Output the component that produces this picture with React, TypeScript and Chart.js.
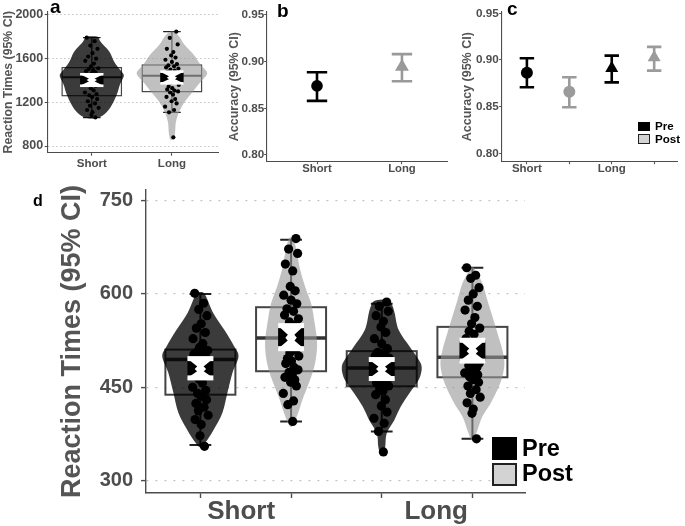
import React, { useEffect, useRef } from 'react';
import { Chart, registerables } from 'chart.js';

Chart.register(...registerables);

const FONT = '"Liberation Sans", Arial, Helvetica, sans-serif';
const AXIS = '#4d4d4d';
const PRE_FILL = 'rgba(0,0,0,0.77)';
const POST_FILL = 'rgba(150,150,150,0.6)';

// ---------------- Panel a : RT (Short / Long) ----------------
const aCategories = ['Short', 'Long'];
const aYTicks = [800, 1200, 1600, 2000];
const aShortRT = [1792, 1760, 1720, 1690, 1650, 1620, 1600, 1580, 1555, 1530, 1512, 1505, 1495, 1485, 1475, 1465, 1455, 1445, 1438, 1432, 1420, 1405, 1390, 1370, 1350, 1330, 1310, 1290, 1275, 1265, 1250, 1230, 1210, 1190, 1170, 1150, 1130, 1110, 1085, 1062];
const aLongRT = [1847, 1790, 1730, 1690, 1660, 1630, 1610, 1590, 1570, 1550, 1538, 1530, 1520, 1510, 1500, 1490, 1480, 1468, 1458, 1448, 1440, 1420, 1400, 1380, 1360, 1345, 1330, 1318, 1308, 1300, 1290, 1270, 1250, 1230, 1210, 1190, 1160, 1130, 1109, 880];
// [whisker low, q1, median, q3, whisker high]
const aShortBox = [1060, 1261, 1429, 1518, 1792];
const aLongBox = [1109, 1298, 1444, 1542, 1847];
// [mean, ci low, ci high]
const aShortCI = [1405, 1352, 1457];
const aLongCI = [1426, 1374, 1481];
// violin density profile: [value, half width]
const aShortViolin = [[1806, 0], [1800, 0.075], [1755, 0.11], [1664, 0.22], [1572, 0.28], [1500, 0.35], [1450, 0.4], [1400, 0.375], [1359, 0.35], [1267, 0.31], [1175, 0.25], [1114, 0.19], [1068, 0.11], [1052, 0]];
const aLongViolin = [[1849, 0], [1817, 0.075], [1725, 0.16], [1634, 0.275], [1542, 0.36], [1466, 0.44], [1389, 0.36], [1298, 0.26], [1206, 0.16], [1114, 0.09], [1023, 0.05], [931, 0.04], [870, 0.025], [855, 0]];

// ---------------- Panel b : Accuracy (Short / Long) ----------------
const bCategories = ['Short', 'Long'];
const bMeans = [0.874, 0.8946];
const bLow = [0.858, 0.879];
const bHigh = [0.8886, 0.908];
const accTicks = [0.8, 0.85, 0.9, 0.95];

// ---------------- Panel c : Accuracy (Short/Long x Pre/Post) ----------------
const cLabels = ['Short', '', 'Long', ''];
const cMeans = [0.8864, 0.866, 0.891, 0.9025];
const cLow = [0.8707, 0.8493, 0.876, 0.8886];
const cHigh = [0.9018, 0.8814, 0.9046, 0.914];

// ---------------- Panel d : RT (Short/Long x Pre/Post) ----------------
const dCategories = ['Short', 'Long'];
const dYTicks = [300, 450, 600, 750];
const dShortPre = [601, 585, 575, 565, 552, 545, 538, 528, 520, 514, 509, 507, 505, 503, 501, 499, 498, 497, 496, 495, 492, 488, 484, 478, 470, 463, 457, 450, 445, 440, 436, 430, 424, 418, 412, 405, 398, 390, 372, 355];
const dShortPost = [689, 672, 665, 648, 637, 612, 605, 598, 590, 584, 576, 572, 566, 560, 555, 550, 545, 540, 535, 531, 525, 518, 510, 505, 500, 496, 492, 488, 482, 478, 474, 470, 466, 462, 458, 452, 440, 428, 422, 395];
const dLongPre = [587, 580, 572, 565, 556, 547, 538, 528, 520, 512, 506, 503, 500, 497, 494, 491, 488, 486, 484, 482, 479, 476, 473, 470, 466, 463, 460, 457, 454, 452, 448, 444, 438, 430, 420, 410, 400, 392, 379, 346];
const dLongPost = [642, 630, 625, 610, 600, 590, 580, 574, 562, 552, 545, 540, 535, 528, 522, 515, 510, 505, 502, 499, 496, 492, 489, 485, 482, 479, 476, 473, 470, 467, 462, 458, 452, 446, 440, 434, 425, 415, 408, 367];
const dShortPreBox = [357, 438, 494.5, 510.5, 600];
const dShortPostBox = [395, 475.7, 529, 578.6, 687];
const dLongPreBox = [379, 451.5, 481, 508, 584];
const dLongPostBox = [367, 466, 498, 547, 642];
const dShortPreCI = [479.5, 465, 496];
const dShortPostCI = [529.5, 512, 549];
const dLongPreCI = [479.5, 464, 494.5];
const dLongPostCI = [508, 492, 525.5];
const dShortPreViolin = [[603, 0], [598, 0.055], [569, 0.143], [542, 0.265], [515, 0.375], [499, 0.42], [473, 0.353], [441, 0.298], [409, 0.243], [381, 0.143], [361, 0.055], [353, 0]];
const dShortPostViolin = [[691, 0], [686, 0.033], [665, 0.066], [639, 0.1], [612, 0.154], [585, 0.22], [559, 0.254], [521, 0.287], [489, 0.265], [462, 0.21], [435, 0.138], [408, 0.077], [392, 0.033], [386, 0]];
const dLongPreViolin = [[591, 0], [588, 0.088], [580, 0.12], [569, 0.143], [542, 0.187], [515, 0.309], [494, 0.408], [481, 0.441], [462, 0.408], [440, 0.303], [419, 0.21], [397, 0.138], [376, 0.055], [355, 0.039], [345, 0.022], [341, 0]];
const dLongPostViolin = [[643, 0], [638, 0.033], [617, 0.11], [590, 0.165], [564, 0.22], [537, 0.276], [510, 0.33], [489, 0.353], [467, 0.33], [446, 0.276], [424, 0.2], [403, 0.11], [381, 0.055], [368, 0.022], [364, 0]];

// hand-typed horizontal jitter (fraction of jitter width)
const jitA = [-0.7, 0.4, -0.2, 0.8, 0.1, -0.5, 0.6, -0.9, 0.3, -0.1, 0.9, -0.4, 0.2, -0.8, 0.5, 0.0, -0.6, 0.7, -0.3, 0.35, -0.75, 0.15, 0.85, -0.45, 0.55, -0.15, 0.25, -0.95, 0.65, -0.35, 0.05, 0.75, -0.55, 0.45, -0.25, 0.95, -0.65, 0.1, -0.05, 0.5];
const jitB = [0.6, -0.3, 0.8, -0.7, 0.2, -0.1, 0.5, -0.9, 0.0, 0.7, -0.5, 0.3, -0.8, 0.9, -0.2, 0.4, -0.6, 0.1, 0.75, -0.35, -0.85, 0.25, 0.55, -0.15, 0.95, -0.45, 0.05, -0.65, 0.35, 0.85, -0.25, 0.15, -0.75, 0.45, -0.05, 0.65, -0.95, 0.3, -0.4, 0.2];

type Group = { x: number; values: number[]; jit: number[]; box: number[]; ci: number[]; violin: number[][]; fill: string };
type Sizes = { boxHW: number; capHW: number; ciHW: number; ciCap: number; line: number; medLine: number; jitter: number };

function smoothClosed(ctx: CanvasRenderingContext2D, pts: number[][]) {
  const n = pts.length;
  ctx.beginPath();
  ctx.moveTo(pts[0][0], pts[0][1]);
  for (let i = 0; i < n; i++) {
    const p0 = pts[(i - 1 + n) % n], p1 = pts[i], p2 = pts[(i + 1) % n], p3 = pts[(i + 2) % n];
    ctx.bezierCurveTo(
      p1[0] + (p2[0] - p0[0]) / 6, p1[1] + (p2[1] - p0[1]) / 6,
      p2[0] - (p3[0] - p1[0]) / 6, p2[1] - (p3[1] - p1[1]) / 6,
      p2[0], p2[1]);
  }
  ctx.closePath();
}

function violinPlugin(groups: Group[], s: Sizes) {
  return {
    id: 'violins',
    beforeDatasetsDraw(chart: any) {
      const ctx = chart.ctx as CanvasRenderingContext2D;
      const xs = chart.scales.x, ys = chart.scales.y;
      const px = (v: number) => xs.getPixelForValue(v);
      const py = (v: number) => ys.getPixelForValue(v);
      ctx.save();
      for (const g of groups) {
        const [mn, q1, md, q3, mx] = g.box;
        const xl = px(g.x - s.boxHW), xr = px(g.x + s.boxHW), xc = px(g.x);
        ctx.strokeStyle = '#222';
        ctx.lineWidth = s.line;
        ctx.beginPath();
        ctx.moveTo(xc, py(q3)); ctx.lineTo(xc, py(mx));
        ctx.moveTo(xc, py(q1)); ctx.lineTo(xc, py(mn));
        ctx.moveTo(px(g.x - s.capHW), py(mx)); ctx.lineTo(px(g.x + s.capHW), py(mx));
        ctx.moveTo(px(g.x - s.capHW), py(mn)); ctx.lineTo(px(g.x + s.capHW), py(mn));
        ctx.stroke();
        ctx.strokeStyle = '#444';
        ctx.strokeRect(xl, py(q3), xr - xl, py(q1) - py(q3));
        ctx.lineWidth = s.medLine;
        ctx.strokeStyle = '#333';
        ctx.beginPath();
        ctx.moveTo(xl, py(md)); ctx.lineTo(xr, py(md));
        ctx.stroke();
      }
      for (const g of groups) {
        const right = g.violin.map(([v, w]) => [px(g.x + w), py(v)]);
        const left = g.violin.filter(([, w]) => w > 0).slice().reverse().map(([v, w]) => [px(g.x - w), py(v)]);
        smoothClosed(ctx, right.concat(left));
        ctx.fillStyle = g.fill;
        ctx.fill();
      }
      ctx.restore();
    },
    afterDatasetsDraw(chart: any) {
      const ctx = chart.ctx as CanvasRenderingContext2D;
      const xs = chart.scales.x, ys = chart.scales.y;
      const px = (v: number) => xs.getPixelForValue(v);
      const py = (v: number) => ys.getPixelForValue(v);
      ctx.save();
      for (const g of groups) {
        const [m, lo, hi] = g.ci;
        const xl = px(g.x - s.ciHW), xr = px(g.x + s.ciHW), xc = px(g.x);
        const yt = py(hi), yb = py(lo), ym = py(m);
        ctx.fillStyle = '#000';
        ctx.fillRect(xl, yt, xr - xl, yb - yt);
        ctx.fillStyle = '#fff';
        ctx.beginPath();
        ctx.moveTo(xl, yt); ctx.lineTo(xr, yt); ctx.lineTo(xc, ym); ctx.closePath();
        ctx.moveTo(xl, yb); ctx.lineTo(xr, yb); ctx.lineTo(xc, ym); ctx.closePath();
        ctx.fill();
        const dw = (xr - xl) * 0.22, dh = (yb - yt) * 0.3;
        ctx.beginPath();
        ctx.moveTo(xc, ym - dh); ctx.lineTo(xc + dw, ym); ctx.lineTo(xc, ym + dh); ctx.lineTo(xc - dw, ym); ctx.closePath();
        ctx.fill();
        ctx.fillRect(xl, yt - s.ciCap / 2, xr - xl, s.ciCap);
        ctx.fillRect(xl, yb - s.ciCap / 2, xr - xl, s.ciCap);
      }
      ctx.restore();
    },
  };
}

function errorBarPlugin(lows: number[], highs: number[], colors: string[], capHW: number, lw: number) {
  return {
    id: 'errorbars',
    beforeDatasetsDraw(chart: any) {
      const ctx = chart.ctx as CanvasRenderingContext2D;
      const xs = chart.scales.x, ys = chart.scales.y;
      ctx.save();
      ctx.lineWidth = lw;
      lows.forEach((lo, i) => {
        const x = i + 1;
        ctx.strokeStyle = colors[i];
        ctx.beginPath();
        ctx.moveTo(xs.getPixelForValue(x), ys.getPixelForValue(lo));
        ctx.lineTo(xs.getPixelForValue(x), ys.getPixelForValue(highs[i]));
        ctx.moveTo(xs.getPixelForValue(x - capHW), ys.getPixelForValue(lo));
        ctx.lineTo(xs.getPixelForValue(x + capHW), ys.getPixelForValue(lo));
        ctx.moveTo(xs.getPixelForValue(x - capHW), ys.getPixelForValue(highs[i]));
        ctx.lineTo(xs.getPixelForValue(x + capHW), ys.getPixelForValue(highs[i]));
        ctx.stroke();
      });
      ctx.restore();
    },
  };
}

function fixedTicks(values: number[]) {
  return (scale: any) => { scale.ticks = values.map((v) => ({ value: v })); };
}

function baseScales(o: any) {
  return {
    x: {
      type: 'linear',
      min: o.xMin, max: o.xMax,
      afterBuildTicks: fixedTicks(o.xTicks),
      afterFit: (s: any) => { s.height = o.xHeight; },
      ticks: {
        autoSkip: false, maxRotation: 0, minRotation: 0,
        padding: o.xPad, color: AXIS,
        font: { family: FONT, size: o.xFont, weight: 'bold', lineHeight: 1 },
        callback: o.xLabel,
      },
      grid: {
        drawOnChartArea: false, tickLength: o.tickLen, tickWidth: o.axisWidth,
        tickColor: (c: any) => (c.tick && Number.isInteger(c.tick.value) ? AXIS : 'rgba(0,0,0,0)'),
      },
      border: { color: AXIS, width: o.axisWidth },
    },
    y: {
      type: 'linear',
      min: o.yMin, max: o.yMax,
      afterBuildTicks: fixedTicks(o.yTicks),
      afterFit: (s: any) => { s.width = o.yWidth; },
      ticks: {
        padding: o.yPad, color: AXIS,
        font: { family: FONT, size: o.yFont, weight: 'bold', lineHeight: 1 },
        callback: o.yLabel,
      },
      title: {
        display: true, text: o.title, color: '#555',
        font: { family: FONT, size: o.titleFont, weight: 'bold', lineHeight: 1.2 },
        padding: { top: o.titlePad, bottom: 0 },
      },
      grid: {
        display: true, drawOnChartArea: o.yGrid, color: '#c4c4c4', lineWidth: o.gridWidth,
        tickLength: o.tickLen, tickColor: AXIS, tickWidth: o.axisWidth,
      },
      border: { color: AXIS, width: o.axisWidth, dash: o.dash },
    },
  };
}

function groupDatasets(groups: Group[], radius: number, jitter: number) {
  return groups.map((g) => ({
    type: 'scatter',
    data: g.values.map((v, i) => ({ x: g.x + g.jit[i] * jitter, y: v })),
    pointRadius: radius, pointHoverRadius: radius,
    backgroundColor: '#000', borderColor: '#000', borderWidth: 0,
  }));
}

function makeA(canvas: HTMLCanvasElement) {
  const groups: Group[] = [
    { x: 1, values: aShortRT, jit: jitA, box: aShortBox, ci: aShortCI, violin: aShortViolin, fill: PRE_FILL },
    { x: 2, values: aLongRT, jit: jitB, box: aLongBox, ci: aLongCI, violin: aLongViolin, fill: POST_FILL },
  ];
  const sizes: Sizes = { boxHW: 0.37, capHW: 0.11, ciHW: 0.146, ciCap: 2.6, line: 1.2, medLine: 2, jitter: 0.09 };
  return new Chart(canvas, {
    type: 'scatter',
    data: { datasets: groupDatasets(groups, 2.1, sizes.jitter) as any },
    options: {
      animation: false, responsive: false,
      layout: { padding: { left: 0, right: 10, top: 11.7, bottom: 0 } },
      plugins: { legend: { display: false }, tooltip: { enabled: false } },
      scales: baseScales({
        xMin: 0.45, xMax: 2.575, xTicks: [1, 2], xHeight: 178 - 152.7, xPad: 2.5, xFont: 11.5,
        xLabel: (v: number) => aCategories[v - 1] || '',
        yMin: 739, yMax: 2030, yTicks: aYTicks, yWidth: 47.7, yPad: 1.5, yFont: 12.5,
        yLabel: (v: number) => String(v), title: 'Reaction Times (95% CI)', titleFont: 12.3, titlePad: 1,
        yGrid: true, gridWidth: 1, dash: [1.5, 2.5], tickLen: 3, axisWidth: 1.1,
      }) as any,
    },
    plugins: [violinPlugin(groups, sizes)],
  });
}

function makeB(canvas: HTMLCanvasElement) {
  const colors = ['#000', '#999'];
  return new Chart(canvas, {
    type: 'scatter',
    data: {
      datasets: bMeans.map((m, i) => ({
        data: [{ x: i + 1, y: m }],
        pointStyle: i === 0 ? 'circle' : 'triangle',
        pointRadius: i === 0 ? 5.8 : 8, pointHoverRadius: i === 0 ? 5.8 : 8,
        backgroundColor: colors[i], borderColor: colors[i], borderWidth: 0,
      })) as any,
    },
    options: {
      animation: false, responsive: false,
      layout: { padding: { left: 0, right: 8, top: 11.7, bottom: 0 } },
      plugins: { legend: { display: false }, tooltip: { enabled: false } },
      scales: baseScales({
        xMin: 0.408, xMax: 2.53, xTicks: [1, 2], xHeight: 178 - 161.7, xPad: -1, xFont: 11.3,
        xLabel: (v: number) => bCategories[v - 1] || '',
        yMin: 0.7928, yMax: 0.9535, yTicks: accTicks, yWidth: 41.7, yPad: 0, yFont: 11.7,
        yLabel: (v: number) => v.toFixed(2), title: 'Accuracy (95% CI)', titleFont: 12.5, titlePad: 2.5,
        yGrid: false, gridWidth: 1, dash: [], tickLen: 2.5, axisWidth: 1.1,
      }) as any,
    },
    plugins: [errorBarPlugin(bLow, bHigh, colors, 0.12, 2.6)],
  });
}

function makeC(canvas: HTMLCanvasElement) {
  const colors = ['#000', '#9b9b9b', '#000', '#9b9b9b'];
  return new Chart(canvas, {
    type: 'scatter',
    data: {
      datasets: cMeans.map((m, i) => ({
        data: [{ x: i + 1, y: m }],
        pointStyle: i < 2 ? 'circle' : 'triangle',
        pointRadius: i < 2 ? 6 : 7.5, pointHoverRadius: i < 2 ? 6 : 7.5,
        backgroundColor: colors[i], borderColor: colors[i], borderWidth: 0,
      })) as any,
    },
    options: {
      animation: false, responsive: false,
      layout: { padding: { left: 0, right: 2, top: 11.7, bottom: 0 } },
      plugins: { legend: { display: false }, tooltip: { enabled: false } },
      scales: baseScales({
        xMin: 0.406, xMax: 4.55, xTicks: [1, 2, 3, 4], xHeight: 178 - 161.7, xPad: -1.5, xFont: 11.5,
        xLabel: (v: number) => cLabels[v - 1] || '',
        yMin: 0.791, yMax: 0.9517, yTicks: accTicks, yWidth: 46.7, yPad: 0.5, yFont: 11.7,
        yLabel: (v: number) => v.toFixed(2), title: 'Accuracy (95% CI)', titleFont: 12.5, titlePad: 5,
        yGrid: false, gridWidth: 1, dash: [], tickLen: 2.5, axisWidth: 1.1,
      }) as any,
    },
    plugins: [errorBarPlugin(cLow, cHigh, colors, 0.17, 2.6)],
  });
}

function makeD(canvas: HTMLCanvasElement) {
  const groups: Group[] = [
    { x: 1, values: dShortPre, jit: jitA, box: dShortPreBox, ci: dShortPreCI, violin: dShortPreViolin, fill: PRE_FILL },
    { x: 2, values: dShortPost, jit: jitB, box: dShortPostBox, ci: dShortPostCI, violin: dShortPostViolin, fill: POST_FILL },
    { x: 3, values: dLongPre, jit: jitB, box: dLongPreBox, ci: dLongPreCI, violin: dLongPreViolin, fill: PRE_FILL },
    { x: 4, values: dLongPost, jit: jitA, box: dLongPostBox, ci: dLongPostCI, violin: dLongPostViolin, fill: POST_FILL },
  ];
  const sizes: Sizes = { boxHW: 0.386, capHW: 0.12, ciHW: 0.143, ciCap: 5, line: 2, medLine: 3.5, jitter: 0.09 };
  const labelPos = [1.45, 3.6];
  return new Chart(canvas, {
    type: 'scatter',
    data: { datasets: groupDatasets(groups, 4.6, sizes.jitter) as any },
    options: {
      animation: false, responsive: false,
      layout: { padding: { left: 50, right: 160, top: 20, bottom: 0 } },
      plugins: { legend: { display: false }, tooltip: { enabled: false } },
      scales: baseScales({
        xMin: 0.4, xMax: 4.58, xTicks: [1, labelPos[0], 2, 3, labelPos[1], 4], xHeight: 356 - 323, xPad: 1, xFont: 26,
        xLabel: (v: number) => (v === labelPos[0] ? dCategories[0] : v === labelPos[1] ? dCategories[1] : ''),
        yMin: 280, yMax: 767, yTicks: dYTicks, yWidth: 96, yPad: 8, yFont: 20,
        yLabel: (v: number) => String(v), title: 'Reaction Times (95% CI)', titleFont: 27, titlePad: 6,
        yGrid: true, gridWidth: 1.2, dash: [2, 7], tickLen: 5, axisWidth: 1.4,
      }) as any,
    },
    plugins: [violinPlugin(groups, sizes)],
  });
}

const letter = (t: string, left: number, top: number, size: number) => (
  <div style={{ position: 'absolute', left, top, fontSize: size, lineHeight: 1, fontWeight: 'bold', color: '#000', fontFamily: FONT }}>{t}</div>
);

export default function App() {
  const aRef = useRef<HTMLCanvasElement>(null);
  const bRef = useRef<HTMLCanvasElement>(null);
  const cRef = useRef<HTMLCanvasElement>(null);
  const dRef = useRef<HTMLCanvasElement>(null);

  useEffect(() => {
    const charts = [makeA(aRef.current!), makeB(bRef.current!), makeC(cRef.current!), makeD(dRef.current!)];
    return () => charts.forEach((c) => c.destroy());
  }, []);

  return (
    <div style={{ position: 'absolute', left: 0, top: 0, width: 685, height: 526, background: '#fff', overflow: 'hidden', fontFamily: FONT }}>
      <canvas ref={aRef} width={228} height={178} style={{ position: 'absolute', left: 0, top: 0 }} />
      <canvas ref={bRef} width={230} height={178} style={{ position: 'absolute', left: 225, top: 0 }} />
      <canvas ref={cRef} width={230} height={178} style={{ position: 'absolute', left: 455, top: 0 }} />
      <canvas ref={dRef} width={685} height={356} style={{ position: 'absolute', left: 0, top: 170 }} />
      {letter('a', 50, -3, 19)}
      {letter('b', 277, 0.5, 19)}
      {letter('c', 507, -1, 19)}
      {letter('d', 33, 193, 16)}
      {/* legend c */}
      <div style={{ position: 'absolute', left: 638, top: 122, width: 12, height: 9, background: '#000' }} />
      <div style={{ position: 'absolute', left: 638, top: 133.5, width: 10, height: 8, background: '#d3d3d3', border: '1px solid #222' }} />
      <div style={{ position: 'absolute', left: 655, top: 120.2, fontSize: 11.6, lineHeight: 1, fontWeight: 'bold', color: '#000' }}>Pre</div>
      <div style={{ position: 'absolute', left: 655, top: 133.2, fontSize: 11.6, lineHeight: 1, fontWeight: 'bold', color: '#000' }}>Post</div>
      {/* legend d */}
      <div style={{ position: 'absolute', left: 492, top: 437, width: 25, height: 23, background: '#000' }} />
      <div style={{ position: 'absolute', left: 492, top: 463, width: 21, height: 19, background: '#d3d3d3', border: '2px solid #222' }} />
      <div style={{ position: 'absolute', left: 522, top: 437, fontSize: 23.5, lineHeight: 1, fontWeight: 'bold', color: '#000' }}>Pre</div>
      <div style={{ position: 'absolute', left: 522, top: 462, fontSize: 23.5, lineHeight: 1, fontWeight: 'bold', color: '#000' }}>Post</div>
    </div>
  );
}
